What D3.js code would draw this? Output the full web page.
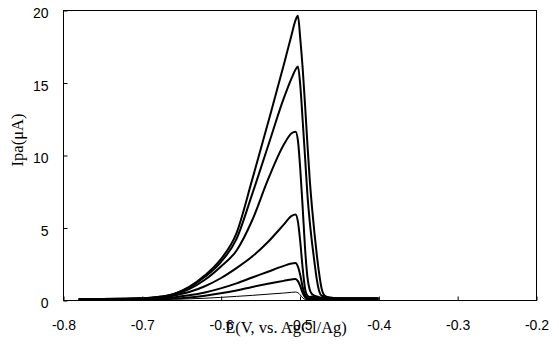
<!DOCTYPE html>
<html lang="en">

<head>
  <meta charset="UTF-8">
  <title>Ipa vs E</title>
  <style>
    body { margin: 0; background: #fff; }
  </style>
</head>

<body>
  <div id="svg"></div>

  <script src="https://d3js.org/d3.v7.min.js"></script>

  <script>
    // potential grid (V vs AgCl/Ag), shared by all curves
    const potentials = [-0.78, -0.72, -0.68, -0.66, -0.64, -0.62, -0.60, -0.58, -0.56, -0.54, -0.52, -0.51, -0.505, -0.502,
      -0.499, -0.496, -0.493, -0.49, -0.487, -0.484, -0.481, -0.478, -0.475, -0.472, -0.469, -0.465, -0.46, -0.45, -0.40]

    // peak currents (uA), largest first
    const curve1 = [0.05, 0.08, 0.2, 0.4, 0.9, 1.7, 2.8, 4.6, 8.3, 12.2, 16.2, 18.3, 19.3, 19.6,
      18.0, 16.0, 13.5, 10.8, 8.3, 6.3, 4.6, 3.1, 1.8, 0.8, 0.35, 0.2, 0.15, 0.1, 0.1]
    const curve2 = [0.05, 0.08, 0.2, 0.4, 0.85, 1.6, 2.6, 4.2, 7.3, 10.6, 13.9, 15.3, 15.9, 16.1,
      14.8, 12.4, 9.9, 7.3, 5.4, 3.9, 2.6, 1.4, 0.6, 0.3, 0.25, 0.2, 0.15, 0.1, 0.1]
    const curve3 = [0.05, 0.08, 0.18, 0.35, 0.75, 1.4, 2.3, 3.4, 5.5, 8.3, 10.7, 11.5, 11.6, 11.0,
      9.0, 6.4, 3.6, 1.6, 0.7, 0.4, 0.3, 0.25, 0.2, 0.15, 0.15, 0.12, 0.1, 0.1, 0.1]
    const curve4 = [0.05, 0.07, 0.15, 0.3, 0.55, 0.95, 1.5, 2.2, 3.0, 4.0, 5.2, 5.8, 5.9, 5.4,
      4.0, 2.2, 0.8, 0.3, 0.2, 0.25, 0.2, 0.15, 0.12, 0.1, 0.1, 0.1, 0.1, 0.1, 0.1]
    const curve5 = [0.03, 0.05, 0.1, 0.18, 0.32, 0.52, 0.8, 1.15, 1.55, 1.95, 2.35, 2.52, 2.55, 2.3,
      1.7, 0.9, 0.35, 0.15, 0.1, 0.15, 0.1, 0.1, 0.08, 0.08, 0.08, 0.08, 0.08, 0.08, 0.08]
    const curve6 = [0.02, 0.03, 0.06, 0.1, 0.18, 0.3, 0.46, 0.66, 0.9, 1.12, 1.32, 1.42, 1.45, 1.3,
      0.95, 0.5, 0.2, 0.08, 0.05, 0.05, 0.05, 0.05, 0.05, 0.05, 0.05, 0.05, 0.05, 0.05, 0.05]
    const curve7 = [0.01, 0.02, 0.03, 0.05, 0.08, 0.12, 0.18, 0.25, 0.32, 0.4, 0.48, 0.53, 0.55, 0.5,
      0.35, 0.15, 0.05, 0.03, 0.03, 0.03, 0.03, 0.03, 0.03, 0.03, 0.03, 0.03, 0.03, 0.03, 0.03]

    const series = [curve1, curve2, curve3, curve4, curve5, curve6, curve7]
    const strokeWidths = [2, 2, 2, 2, 2, 2, 1]

    const xTicks = [-0.8, -0.7, -0.6, -0.5, -0.4, -0.3, -0.2]
    const yTicks = [0, 5, 10, 15, 20]

    const width = 559
    const height = 359
    const padding = { top: 10, left: 63, bottom: 59, right: 23 }

    const svg = d3.select('#svg').append('svg').attr('width', width).attr('height', height)

    const xScale = d3.scaleLinear().domain([-0.8, -0.2]).range([padding.left, width - padding.right])
    const yScale = d3.scaleLinear().domain([0, 20]).range([height - padding.bottom, padding.top])

    // frame
    svg.append('rect')
      .attr('x', xScale(-0.8) + 0.5).attr('y', yScale(20) + 0.5)
      .attr('width', xScale(-0.2) - xScale(-0.8)).attr('height', yScale(0) - yScale(20))
      .attr('fill', 'none').attr('stroke', '#000').attr('stroke-width', 1)

    const xAxis = d3.axisBottom(xScale).tickValues(xTicks).tickSize(-4).tickPadding(20).tickFormat(d => d.toFixed(1))
    const gX = svg.append('g').attr('transform', `translate(0.5,${yScale(0) + 0.5})`).call(xAxis)
    gX.select('.domain').remove()
    gX.selectAll('line').attr('stroke', '#000')
    gX.selectAll('text').attr('fill', '#000').attr('font-family', 'Liberation Sans, Arial, sans-serif').attr('font-size', '14px')

    const yAxis = d3.axisLeft(yScale).tickValues(yTicks).tickSize(-4).tickPadding(15).tickFormat(d => d)
    const gY = svg.append('g').attr('transform', `translate(${xScale(-0.8) + 0.5},0.5)`).call(yAxis)
    gY.select('.domain').remove()
    gY.selectAll('line').attr('stroke', '#000')
    gY.selectAll('text').attr('fill', '#000').attr('font-family', 'Liberation Sans, Arial, sans-serif').attr('font-size', '14px')
      .attr('dy', '0.5em')

    const line = d3.line()
      .x((d, i) => xScale(potentials[i]))
      .y(d => yScale(d))
      .curve(d3.curveMonotoneX)

    svg.append('g').selectAll('path').data(series).enter().append('path')
      .attr('d', d => line(d))
      .attr('fill', 'none')
      .attr('stroke', '#000')
      .attr('stroke-width', (d, i) => strokeWidths[i])
      .attr('stroke-linejoin', 'round')

    // axis titles
    svg.append('text')
      .attr('x', 286).attr('y', 333)
      .attr('text-anchor', 'middle')
      .attr('font-family', 'Liberation Serif, Times New Roman, serif').attr('font-size', '16.5px')
      .text('E(V, vs. AgCl/Ag)')

    svg.append('text')
      .attr('transform', 'translate(23,140) rotate(-90)')
      .attr('text-anchor', 'middle')
      .attr('font-family', 'Liberation Serif, Times New Roman, serif').attr('font-size', '16.5px')
      .text('Ipa(μA)')
  </script>
</body>

</html>
